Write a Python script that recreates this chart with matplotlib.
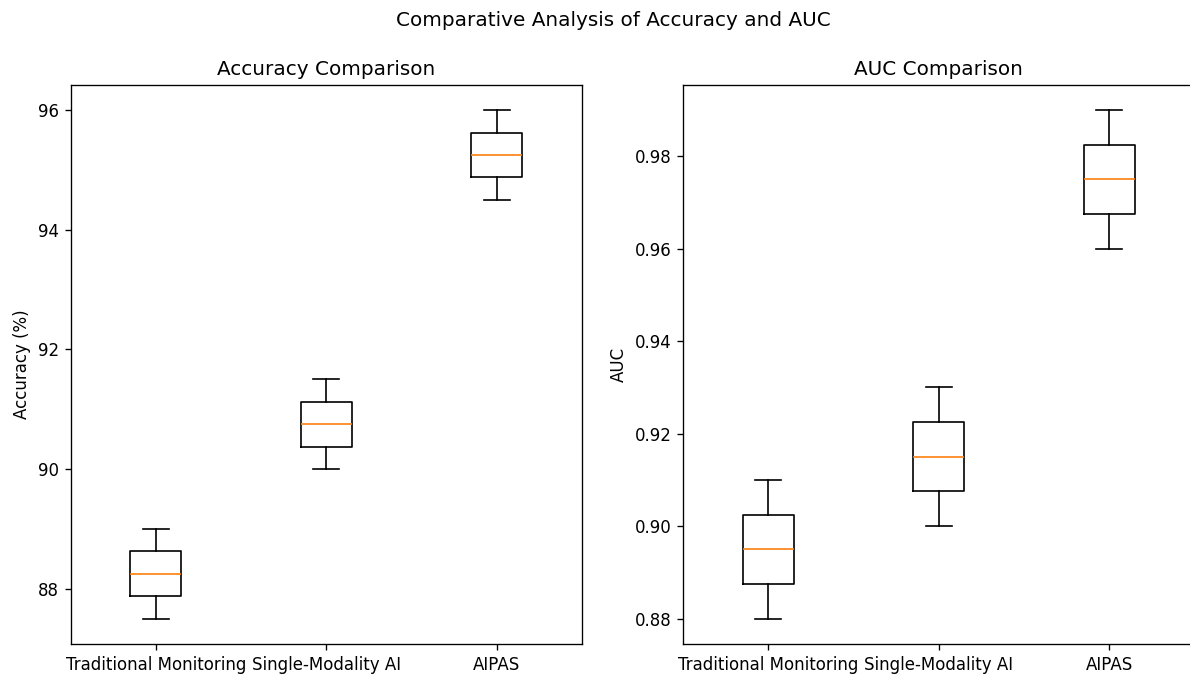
import matplotlib
matplotlib.use("Agg")
import matplotlib.pyplot as plt

# Model names shown on the x axis
models = ['Traditional Monitoring', 'Single-Modality AI', 'AIPAS']

# Accuracy (%) per run for each model
acc_traditional = [87.5, 88.0, 88.5, 89.0]
acc_single = [90.0, 90.5, 91.0, 91.5]
acc_aipas = [94.5, 95.0, 95.5, 96.0]

# AUC per run for each model
auc_traditional = [0.88, 0.89, 0.90, 0.91]
auc_single = [0.90, 0.91, 0.92, 0.93]
auc_aipas = [0.96, 0.97, 0.98, 0.99]

# rendered at 120 dpi so text and lines come out 1.2x like the reference
DPI = 120
W, H = 1190, 675
fig = plt.figure(figsize=(W / DPI, H / DPI), dpi=DPI)

# axes placed in pixel terms, the right panel runs slightly past the edge
ax1 = fig.add_axes([70.5 / W, 1 - 644 / H, 511.5 / W, (644 - 84.7) / H])
ax2 = fig.add_axes([683 / W, 1 - 644 / H, 511.5 / W, (644 - 84.7) / H])

ax1.boxplot([acc_traditional, acc_single, acc_aipas])
ax1.set_xticks([1, 2, 3], models)
ax1.set_title('Accuracy Comparison')
ax1.set_ylabel('Accuracy (%)')

ax2.boxplot([auc_traditional, auc_single, auc_aipas])
ax2.set_xticks([1, 2, 3], models)
ax2.set_title('AUC Comparison')
ax2.set_ylabel('AUC')

fig.suptitle('Comparative Analysis of Accuracy and AUC',
             x=613 / W, y=1 - 20 / H, va='center')

fig.savefig('out.png', dpi=DPI)
